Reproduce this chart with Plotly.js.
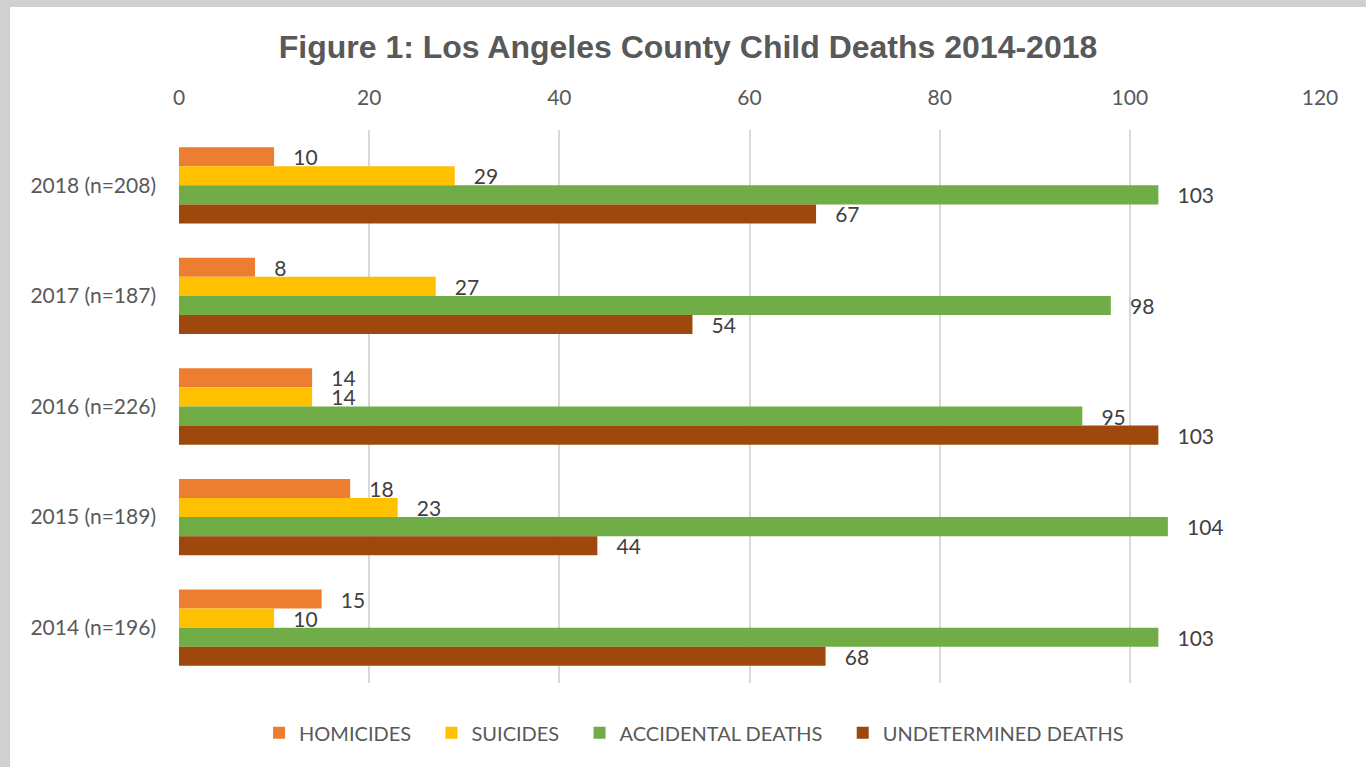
<!DOCTYPE html>
<html>
<head>
<meta charset="utf-8">
<script src="https://cdn.plot.ly/plotly-3.0.1.min.js"></script>
<style>
html,body{margin:0;padding:0;width:1366px;height:767px;overflow:hidden;background:#d0d0d0;}
#chart{position:absolute;left:10px;top:7px;width:1356px;height:760px;background:#fff;}
</style>
</head>
<body>
<div id="chart"></div>
<script>
const categories = ["2018 (n=208)", "2017 (n=187)", "2016 (n=226)", "2015 (n=189)", "2014 (n=196)"];
const homicides = [10, 8, 14, 18, 15];
const suicides = [29, 27, 14, 23, 10];
const accidental = [103, 98, 95, 104, 103];
const undetermined = [67, 54, 103, 44, 68];
const seriesNames = ["HOMICIDES", "SUICIDES", "ACCIDENTAL DEATHS", "UNDETERMINED DEATHS"];
const seriesColors = ["#ED7D31", "#FFC000", "#70AD47", "#9E480E"];
const xTicks = [0, 20, 40, 60, 80, 100, 120];

const NB = "\u00a0";
const allSeries = [homicides, suicides, accidental, undetermined];
const traces = allSeries.map((vals, i) => ({
  type: "bar",
  orientation: "h",
  name: seriesNames[i] + NB.repeat(3),
  y: categories,
  x: vals,
  text: vals.map(v => NB.repeat(3) + String(v)),
  textposition: "outside",
  constraintext: "none",
  cliponaxis: false,
  textfont: {family: "Lato, 'Open Sans', sans-serif", size: 21, color: "#404040"},
  marker: {color: seriesColors[i]},
  hoverinfo: "x+name"
}));

const layout = {
  width: 1356,
  height: 760,
  paper_bgcolor: "#ffffff",
  plot_bgcolor: "#ffffff",
  margin: {l: 169, r: 46, t: 123, b: 84},
  barmode: "group",
  bargap: 0.31,
  bargroupgap: 0,
  title: {
    text: "<b>Figure 1: Los Angeles County Child Deaths 2014-2018</b>",
    x: 0.5, xref: "container", xanchor: "center",
    y: 1 - 40/760, yref: "container", yanchor: "middle",
    font: {family: "Arial, 'Liberation Sans', sans-serif", size: 32, color: "#595959"}
  },
  xaxis: {
    side: "top",
    range: [0, 120],
    tickvals: xTicks,
    ticktext: xTicks.map(String),
    showgrid: true,
    gridcolor: "#d9d9d9",
    gridwidth: 1.5,
    zeroline: false,
    showline: false,
    ticks: "",
    ticklen: 0,
    ticklabelstandoff: 20,
    tickfont: {family: "Lato, 'Open Sans', sans-serif", size: 21, color: "#595959"},
    fixedrange: true
  },
  yaxis: {
    type: "category",
    autorange: "reversed",
    showgrid: false,
    zeroline: false,
    showline: false,
    ticks: "",
    ticklen: 0,
    ticklabelstandoff: 22,
    tickfont: {family: "Lato, 'Open Sans', sans-serif", size: 21, color: "#595959"},
    fixedrange: true
  },
  showlegend: true,
  legend: {
    orientation: "h",
    x: 0.458, xanchor: "center",
    y: -0.09, yanchor: "middle",
    font: {family: "Lato, 'Open Sans', sans-serif", size: 20, color: "#595959"},
    itemsizing: "constant",
    traceorder: "normal"
  }
};

Plotly.newPlot("chart", traces, layout, {displayModeBar: false});
</script>
</body>
</html>
